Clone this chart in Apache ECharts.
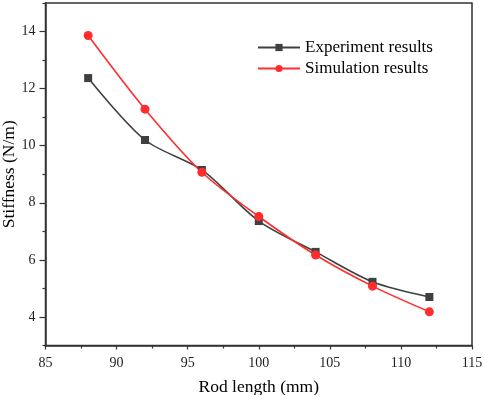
<!DOCTYPE html>
<html><head><meta charset="utf-8">
<script src="https://cdn.jsdelivr.net/npm/echarts@6/dist/echarts.min.js"></script>
<style>html,body{margin:0;padding:0;background:#fff}#c{width:484px;height:395px}</style>
</head><body><div id="c"></div>
<script>
var rodLength = [88, 92, 96, 100, 104, 108, 112];
var experiment = [12.37, 10.20, 9.15, 7.36, 6.28, 5.23, 4.70];
var simulation = [13.86, 11.28, 9.07, 7.52, 6.17, 5.08, 4.18];
var yMajor = [4, 6, 8, 10, 12, 14];
var yMinor = [3, 5, 7, 9, 11, 13, 15];
var font = '"Liberation Serif", "Times New Roman", serif';
function pairs(xs, ys){ return xs.map(function(x,i){ return [x, ys[i]]; }); }
var chart = echarts.init(document.getElementById('c'));
chart.setOption({
  animation: false,
  grid: {left: 45.5, right: 12, top: 3, bottom: 49.5, containLabel: false, outerBoundsMode: 'none',
         show: true, borderColor: '#333', borderWidth: 1.5, backgroundColor: 'transparent'},
  legend: {
    orient: 'vertical', left: 252, top: 34, itemWidth: 42, itemHeight: 9, itemGap: 4,
    textStyle: {fontFamily: font, fontSize: 17, color: '#000'},
    data: ['Experiment results', 'Simulation results']
  },
  xAxis: {
    type: 'value', min: 85, max: 115, interval: 5,
    name: 'Rod length (mm)', nameLocation: 'middle', nameGap: 33, nameMoveOverlap: false,
    nameTextStyle: {fontFamily: font, fontSize: 17.5, color: '#000'},
    axisLine: {lineStyle: {color: '#333', width: 1.5}},
    axisTick: {length: 4, lineStyle: {color: '#333', width: 1.2}},
    minorTick: {show: true, splitNumber: 2, length: 3, lineStyle: {color: '#333', width: 1.2}},
    splitLine: {show: false},
    axisLabel: {fontFamily: font, fontSize: 14, color: '#222', margin: 11}
  },
  yAxis: [{
    type: 'value', min: 3, max: 15,
    name: 'Stiffness (N/m)', nameLocation: 'middle', nameGap: 27, nameMoveOverlap: false,
    nameTextStyle: {fontFamily: font, fontSize: 17.5, color: '#000'},
    axisLine: {show: true, lineStyle: {color: '#333', width: 1.5}},
    axisTick: {show: true, length: 6, customValues: yMajor, lineStyle: {color: '#333', width: 1.2}},
    splitLine: {show: false},
    axisLabel: {fontFamily: font, fontSize: 14, color: '#222', margin: 10, customValues: yMajor}
  }, {
    type: 'value', min: 3, max: 15, position: 'left',
    axisLine: {show: false},
    axisTick: {show: true, length: 3, customValues: yMinor, lineStyle: {color: '#333', width: 1.2}},
    axisLabel: {show: false},
    splitLine: {show: false}
  }],
  series: [{
    name: 'Experiment results', type: 'line', smooth: 0.3,
    data: pairs(rodLength, experiment),
    symbol: 'rect', symbolSize: 8,
    itemStyle: {color: '#404040'},
    lineStyle: {color: '#404040', width: 1.6}
  }, {
    name: 'Simulation results', type: 'line', smooth: 0.3,
    data: pairs(rodLength, simulation),
    symbol: 'circle', symbolSize: 9,
    itemStyle: {color: '#ff2d2d'},
    lineStyle: {color: '#ff2d2d', width: 1.6}
  }]
});
</script>
</body></html>
